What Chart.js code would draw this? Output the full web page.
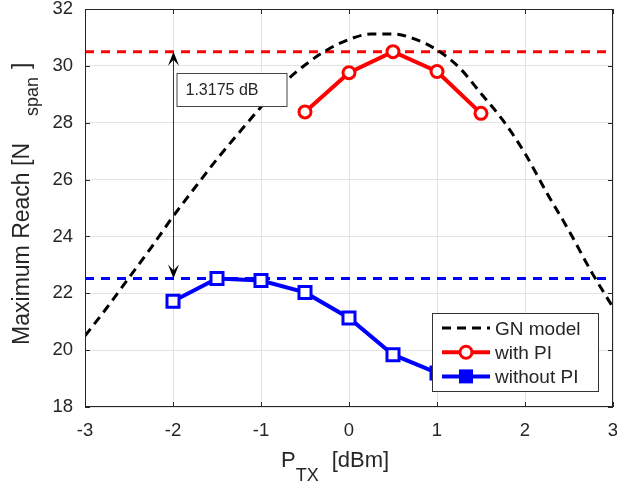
<!DOCTYPE html>
<html>
<head>
<meta charset="utf-8">
<script src="https://cdn.jsdelivr.net/npm/chart.js@4"></script>
<style>
  html, body { margin: 0; padding: 0; background: #fff; }
</style>
</head>
<body>
<canvas id="chart" width="617" height="484"></canvas>
<script>
// GN model curve
const gnPower = [-3, -2.75, -2.5, -2.25, -2, -1.75, -1.5, -1.25, -1, -0.75, -0.5, -0.25, 0,
                 0.25, 0.5, 0.75, 1, 1.25, 1.5, 1.75, 2, 2.25, 2.5, 2.75, 3];
const gnReach = [20.5, 21.5, 22.55, 23.6, 24.7, 25.72, 26.72, 27.65, 28.55, 29.37, 30.03, 30.56, 30.93,
                 31.12, 31.12, 30.94, 30.56, 29.95, 29.03, 28.08, 26.92, 25.52, 24.2, 22.78, 21.5];

// measured reach
const piPower = [-0.5, 0, 0.5, 1, 1.5];
const piReach = [28.38, 29.76, 30.5, 29.8, 28.33];
const noPiPower = [-2, -1.5, -1, -0.5, 0, 0.5, 1, 1.5];
const noPiReach = [21.72, 22.52, 22.45, 22.03, 21.13, 19.84, 19.2, 18.8];

// best reach levels (dashed lines) and the gap between them
const bestWithPI = 30.5;
const bestWithoutPI = 22.52;
const gapLabel = '1.3175 dB';
const gapAt = -2;

const xTicks = [-3, -2, -1, 0, 1, 2, 3];
const yTicks = [18, 20, 22, 24, 26, 28, 30, 32];

const FONT = '"Liberation Sans", Arial, Helvetica, sans-serif';
const TEXT = '#262626';

const pts = (xs, ys) => xs.map((v, i) => ({ x: v, y: ys[i] }));

const frame = {
  id: 'frame',
  afterDatasetsDraw(chart) {
    const { ctx, chartArea: a, scales: { x, y } } = chart;
    ctx.save();

    // axes box + inward ticks
    ctx.strokeStyle = TEXT;
    ctx.lineWidth = 1;
    ctx.setLineDash([]);
    ctx.strokeRect(a.left + 0.5, a.top + 0.5, a.right - a.left - 1, a.bottom - a.top - 1);
    ctx.beginPath();
    xTicks.forEach(t => {
      const px = Math.round(x.getPixelForValue(t)) + 0.5;
      ctx.moveTo(px, a.bottom); ctx.lineTo(px, a.bottom - 5);
      ctx.moveTo(px, a.top); ctx.lineTo(px, a.top + 5);
    });
    yTicks.forEach(t => {
      const py = Math.round(y.getPixelForValue(t)) + 0.5;
      ctx.moveTo(a.left, py); ctx.lineTo(a.left + 5, py);
      ctx.moveTo(a.right, py); ctx.lineTo(a.right - 5, py);
    });
    ctx.stroke();

    // double arrow between the two best levels
    const ax = Math.round(x.getPixelForValue(gapAt)) + 0.5;
    const yTop = y.getPixelForValue(bestWithPI);
    const yBot = y.getPixelForValue(bestWithoutPI);
    ctx.strokeStyle = '#333';
    ctx.beginPath();
    ctx.moveTo(ax, yTop + 6); ctx.lineTo(ax, yBot - 6);
    ctx.stroke();
    ctx.fillStyle = '#000';
    const head = (tipY, dir) => {
      ctx.beginPath();
      ctx.moveTo(ax, tipY);
      ctx.lineTo(ax - 5.5, tipY + dir * 14);
      ctx.lineTo(ax, tipY + dir * 8);
      ctx.lineTo(ax + 5.5, tipY + dir * 14);
      ctx.closePath();
      ctx.fill();
    };
    head(yTop, 1);
    head(yBot, -1);

    // gap text box
    const bx = ax + 3, by = Math.round(yTop + 21);
    ctx.fillStyle = '#fff';
    ctx.fillRect(bx, by, 110, 33);
    ctx.strokeStyle = '#444';
    ctx.strokeRect(bx + 0.5, by + 0.5, 110, 33);
    ctx.fillStyle = TEXT;
    ctx.font = '16px ' + FONT;
    ctx.textBaseline = 'alphabetic';
    ctx.fillText(gapLabel, bx + 9, by + 22);

    // legend
    const lw = 166, lh = 78;
    const lx = a.right - 15 - lw, ly = a.bottom - 16 - lh;
    ctx.fillStyle = '#fff';
    ctx.fillRect(lx, ly, lw, lh);
    ctx.strokeStyle = '#333';
    ctx.strokeRect(Math.round(lx) + 0.5, Math.round(ly) + 0.5, lw, lh);
    const items = [
      { label: 'GN model', color: '#000', dash: [9, 6], width: 3, marker: null },
      { label: 'with PI', color: '#ff0000', dash: [], width: 4, marker: 'circle' },
      { label: 'without PI', color: '#0000ff', dash: [], width: 4, marker: 'rect' }
    ];
    ctx.font = '19px ' + FONT;
    items.forEach((it, i) => {
      const cy = ly + 15 + i * 24.2;
      ctx.strokeStyle = it.color;
      ctx.lineWidth = it.width;
      ctx.setLineDash(it.dash);
      ctx.beginPath();
      ctx.moveTo(lx + 10, cy); ctx.lineTo(lx + 58, cy);
      ctx.stroke();
      ctx.setLineDash([]);
      ctx.lineWidth = 3;
      ctx.fillStyle = '#fff';
      const mx = lx + 34;
      if (it.marker === 'circle') {
        ctx.beginPath(); ctx.arc(mx, cy, 6, 0, Math.PI * 2); ctx.fill(); ctx.stroke();
      } else if (it.marker === 'rect') {
        ctx.fillStyle = it.color;
        ctx.fillRect(mx - 7, cy - 7, 14, 14);
      }
      ctx.fillStyle = TEXT;
      ctx.fillText(it.label, lx + 63, cy + 7);
    });
    ctx.restore();
  },
  afterDraw(chart) {
    const { ctx, chartArea: a } = chart;
    ctx.save();
    ctx.fillStyle = TEXT;
    ctx.textBaseline = 'alphabetic';
    const cx = (a.left + a.right) / 2;

    // x title: P_TX  [dBm]
    let px = cx - 68;
    ctx.font = '22px ' + FONT;
    ctx.textAlign = 'left';
    ctx.fillText('P', px, 467);
    px += ctx.measureText('P').width;
    ctx.font = '18px ' + FONT;
    ctx.fillText('TX', px, 481);
    px += ctx.measureText('TX').width + 13;
    ctx.font = '22px ' + FONT;
    ctx.fillText('[dBm]', px, 467);

    // y title: Maximum Reach [N_span ]
    ctx.translate(29, 143);
    ctx.rotate(-Math.PI / 2);
    ctx.font = '23px ' + FONT;
    ctx.textAlign = 'right';
    ctx.fillText('Maximum Reach [N', 0, 0);
    ctx.textAlign = 'left';
    ctx.font = '18px ' + FONT;
    ctx.fillText('span', 27, 9);
    ctx.font = '23px ' + FONT;
    ctx.fillText(']', 74, 0);
    ctx.restore();
  }
};

new Chart(document.getElementById('chart'), {
  type: 'line',
  data: {
    datasets: [
      {
        label: 'with PI',
        data: pts(piPower, piReach),
        borderColor: '#ff0000',
        borderWidth: 4,
        pointStyle: 'circle',
        pointRadius: 6,
        pointBorderWidth: 3,
        pointBackgroundColor: '#fff',
        pointBorderColor: '#ff0000',
        order: 1
      },
      {
        label: 'without PI',
        data: pts(noPiPower, noPiReach),
        borderColor: '#0000ff',
        borderWidth: 4,
        pointStyle: 'rect',
        pointRadius: 8.5,
        pointBorderWidth: 3,
        pointBackgroundColor: '#fff',
        pointBorderColor: '#0000ff',
        order: 2
      },
      {
        label: 'GN model',
        data: pts(gnPower, gnReach),
        borderColor: '#000',
        borderWidth: 3,
        borderDash: [9, 6],
        pointRadius: 0,
        cubicInterpolationMode: 'monotone',
        order: 3
      },
      {
        label: 'best with PI',
        data: pts([xTicks[0], xTicks[xTicks.length - 1]], [bestWithPI, bestWithPI]),
        borderColor: '#ff0000',
        borderWidth: 3,
        borderDash: [9, 7],
        pointRadius: 0,
        order: 4
      },
      {
        label: 'best without PI',
        data: pts([xTicks[0], xTicks[xTicks.length - 1]], [bestWithoutPI, bestWithoutPI]),
        borderColor: '#0000ff',
        borderWidth: 3,
        borderDash: [9, 7],
        pointRadius: 0,
        order: 5
      }
    ]
  },
  options: {
    responsive: false,
    animation: false,
    devicePixelRatio: 1,
    layout: { autoPadding: false, padding: { left: 0, right: 4, top: 9, bottom: 0 } },
    plugins: { legend: { display: false }, tooltip: { enabled: false } },
    scales: {
      x: {
        type: 'linear',
        min: -3, max: 3,
        afterBuildTicks: s => { s.ticks = xTicks.map(v => ({ value: v })); },
        afterFit: s => { s.height = 77; s.paddingLeft = 0; s.paddingRight = 0; },
        grid: { color: '#e3e3e3', drawTicks: false },
        border: { display: false },
        ticks: { color: TEXT, padding: 13, font: { family: FONT, size: 18.5 } }
      },
      y: {
        type: 'linear',
        min: 18, max: 32,
        afterBuildTicks: s => { s.ticks = yTicks.map(v => ({ value: v })); },
        afterFit: s => { s.width = 85; s.paddingTop = 0; s.paddingBottom = 0; },
        grid: { color: '#e3e3e3', drawTicks: false },
        border: { display: false },
        ticks: { color: TEXT, padding: 12, font: { family: FONT, size: 18.5 } }
      }
    }
  },
  plugins: [frame]
});
</script>
</body>
</html>
